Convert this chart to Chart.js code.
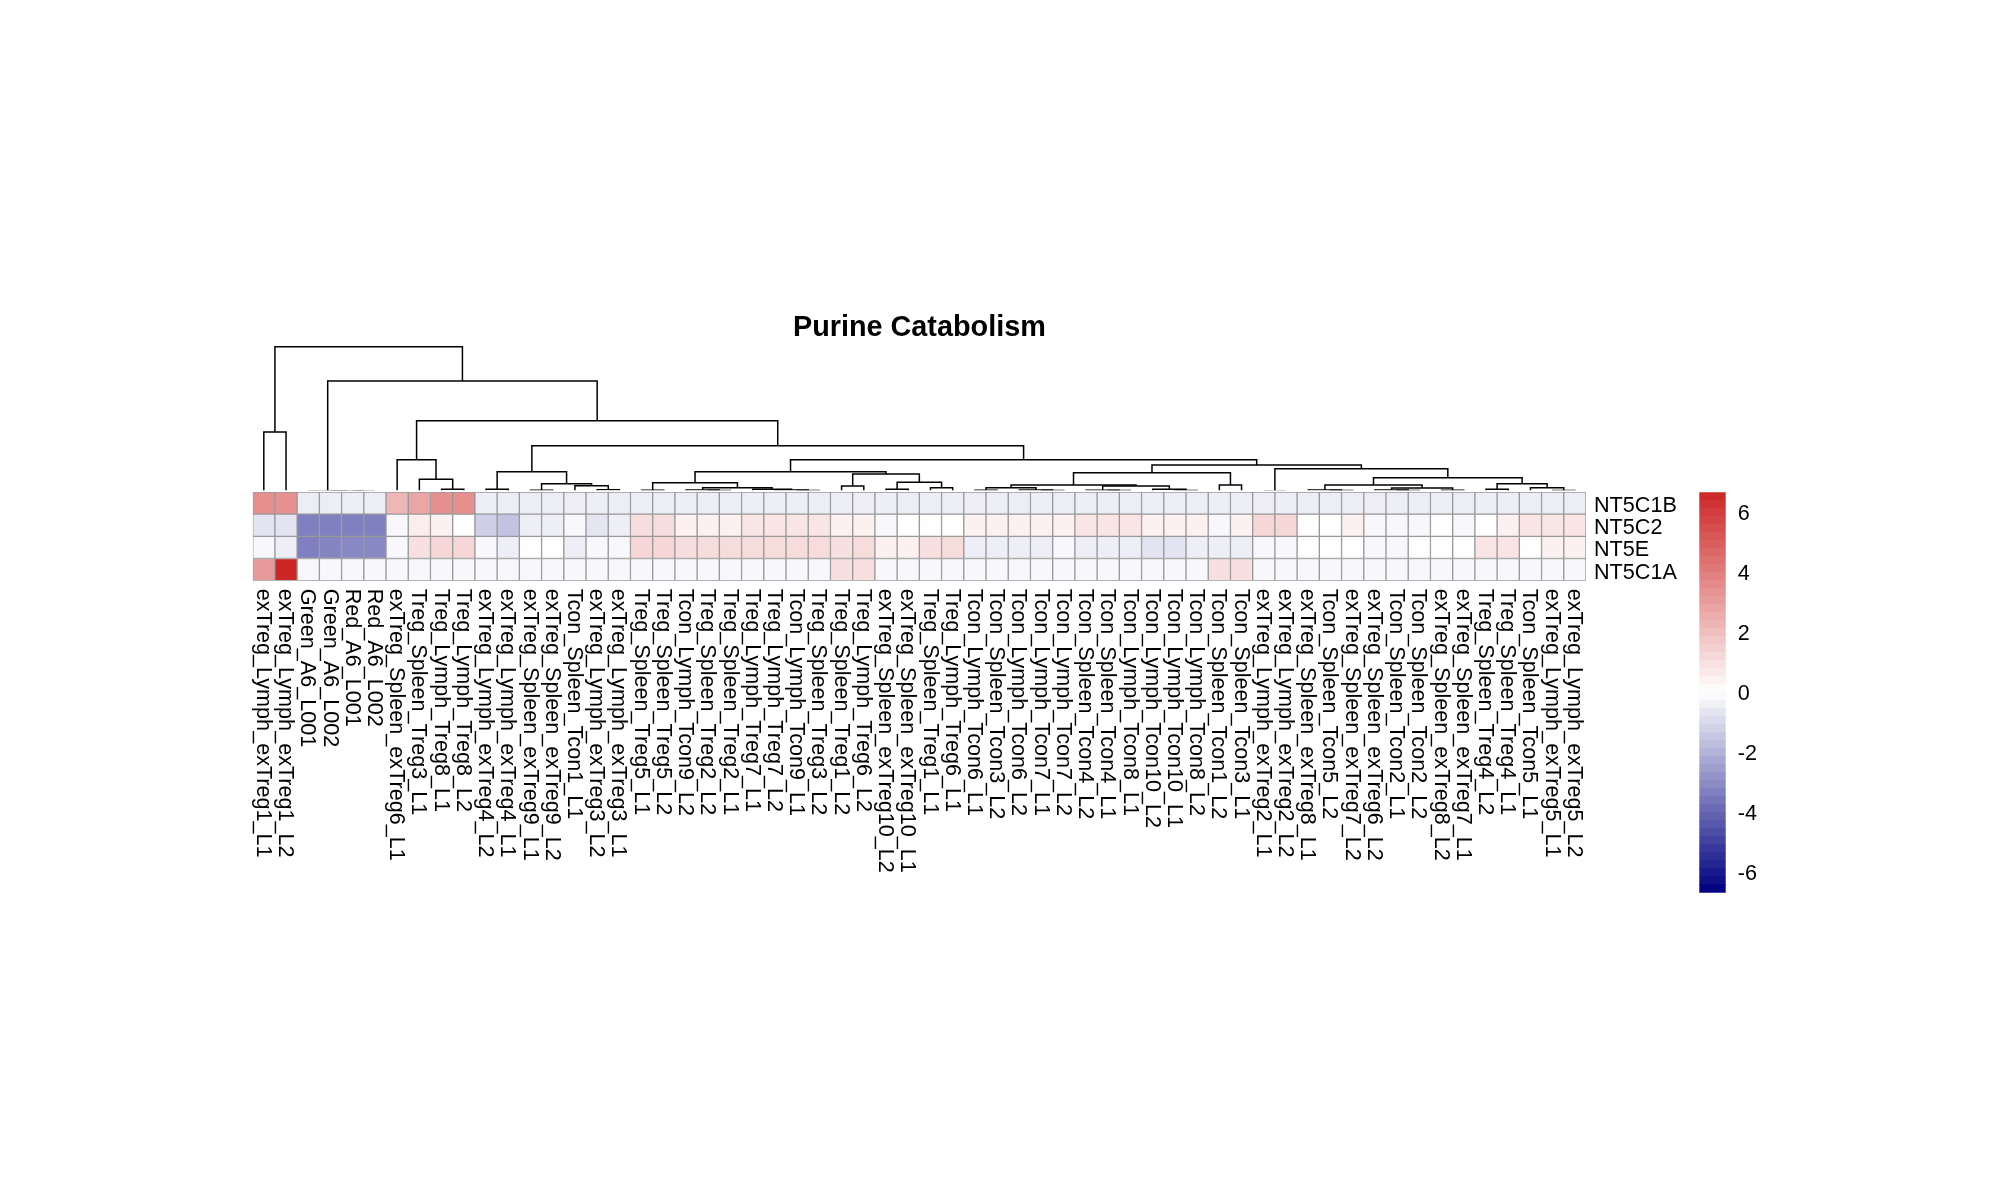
<!DOCTYPE html>
<html>
<head>
<meta charset="utf-8">
<script src="https://cdn.jsdelivr.net/npm/chart.js@4/dist/chart.umd.min.js"></script>
<style>
  html, body { margin: 0; padding: 0; background: #ffffff; }
  #wrap { position: relative; width: 2000px; height: 1200px; background: #ffffff; }
  #wrap canvas { position: absolute; left: 0; top: 0; }
</style>
</head>
<body>
<div id="wrap">
  <canvas id="dendro" width="2000" height="1200"></canvas>
  <canvas id="heat" width="2000" height="1200"></canvas>
  <canvas id="legend" width="2000" height="1200"></canvas>
</div>
<script>
// ---------------- DATA ----------------
const chartTitle = 'Purine Catabolism';

const samples = [
  'exTreg_Lymph_exTreg1_L1','exTreg_Lymph_exTreg1_L2','Green_A6_L001','Green_A6_L002','Red_A6_L001','Red_A6_L002',
  'exTreg_Spleen_exTreg6_L1','Treg_Spleen_Treg3_L1','Treg_Lymph_Treg8_L1','Treg_Lymph_Treg8_L2','exTreg_Lymph_exTreg4_L2','exTreg_Lymph_exTreg4_L1',
  'exTreg_Spleen_exTreg9_L1','exTreg_Spleen_exTreg9_L2','Tcon_Spleen_Tcon1_L1','exTreg_Lymph_exTreg3_L2','exTreg_Lymph_exTreg3_L1','Treg_Spleen_Treg5_L1',
  'Treg_Spleen_Treg5_L2','Tcon_Lymph_Tcon9_L2','Treg_Spleen_Treg2_L2','Treg_Spleen_Treg2_L1','Treg_Lymph_Treg7_L1','Treg_Lymph_Treg7_L2',
  'Tcon_Lymph_Tcon9_L1','Treg_Spleen_Treg3_L2','Treg_Spleen_Treg1_L2','Treg_Lymph_Treg6_L2','exTreg_Spleen_exTreg10_L2','exTreg_Spleen_exTreg10_L1',
  'Treg_Spleen_Treg1_L1','Treg_Lymph_Treg6_L1','Tcon_Lymph_Tcon6_L1','Tcon_Spleen_Tcon3_L2','Tcon_Lymph_Tcon6_L2','Tcon_Lymph_Tcon7_L1',
  'Tcon_Lymph_Tcon7_L2','Tcon_Spleen_Tcon4_L2','Tcon_Spleen_Tcon4_L1','Tcon_Lymph_Tcon8_L1','Tcon_Lymph_Tcon10_L2','Tcon_Lymph_Tcon10_L1',
  'Tcon_Lymph_Tcon8_L2','Tcon_Spleen_Tcon1_L2','Tcon_Spleen_Tcon3_L1','exTreg_Lymph_exTreg2_L1','exTreg_Lymph_exTreg2_L2','exTreg_Spleen_exTreg8_L1',
  'Tcon_Spleen_Tcon5_L2','exTreg_Spleen_exTreg7_L2','exTreg_Spleen_exTreg6_L2','Tcon_Spleen_Tcon2_L1','Tcon_Spleen_Tcon2_L2','exTreg_Spleen_exTreg8_L2',
  'exTreg_Spleen_exTreg7_L1','Treg_Spleen_Treg4_L2','Treg_Spleen_Treg4_L1','Tcon_Spleen_Tcon5_L1','exTreg_Lymph_exTreg5_L1','exTreg_Lymph_exTreg5_L2'
];

const genes = ['NT5C1B', 'NT5C2', 'NT5E', 'NT5C1A'];

const valNT5C1B = [
  3.5, 3.4, -0.4, -0.4, -0.4, -0.4, 2.3, 2.8, 3.5, 3.5,
  -0.4, -0.4, -0.4, -0.4, -0.4, -0.4, -0.4, -0.4, -0.4, -0.4,
  -0.4, -0.4, -0.4, -0.4, -0.4, -0.4, -0.4, -0.4, -0.4, -0.4,
  -0.4, -0.4, -0.4, -0.4, -0.4, -0.4, -0.4, -0.4, -0.4, -0.4,
  -0.4, -0.4, -0.4, -0.4, -0.4, -0.4, -0.4, -0.4, -0.4, -0.4,
  -0.4, -0.4, -0.4, -0.4, -0.4, -0.4, -0.4, -0.4, -0.4, -0.4
];
const valNT5C2 = [
  -0.67, -0.67, -3.26, -3.26, -3.26, -3.26, -0.12, 0.6, 0.5, 0.1,
  -1.19, -1.5, -0.39, -0.39, -0.12, -0.59, -0.39, 1.07, 1.07, 0.52,
  0.52, 0.52, 0.86, 0.86, 0.86, 0.86, 0.52, 0.52, -0.12, 0.1,
  0.1, 0.1, 0.52, 0.52, 0.52, 0.52, 0.52, 0.86, 0.86, 0.86,
  0.52, 0.52, 0.52, -0.12, 0.52, 1.3, 1.3, 0.1, 0.1, 0.52,
  -0.12, -0.12, -0.12, 0.1, -0.12, 0.1, 0.52, 0.86, 0.86, 0.86
];
const valNT5E = [
  -0.12, -0.39, -3.26, -3.13, -3.05, -3.05, -0.12, 1.01, 1.32, 1.32,
  -0.12, -0.39, 0.1, 0.1, -0.39, -0.12, -0.12, 1.32, 1.32, 1.07,
  1.13, 1.13, 1.13, 1.13, 1.13, 1.13, 1.01, 1.13, 0.52, 0.52,
  1.01, 1.13, -0.39, -0.39, -0.39, -0.39, -0.12, -0.39, -0.39, -0.39,
  -0.67, -0.67, -0.39, -0.39, -0.39, -0.12, -0.12, 0.1, 0.1, 0.1,
  -0.12, -0.12, 0.1, 0.1, 0.1, 0.86, 0.86, 0.1, 0.52, 0.52
];
const valNT5C1A = [
  3.16, 6.73, -0.12, -0.12, -0.12, -0.12, -0.12, -0.12, -0.12, -0.12,
  -0.12, -0.12, -0.12, -0.12, -0.12, -0.12, -0.12, -0.12, -0.12, -0.12,
  -0.12, -0.12, -0.12, -0.12, -0.12, -0.12, 1.01, 1.01, -0.12, -0.12,
  -0.12, -0.12, -0.12, -0.12, -0.12, -0.12, -0.12, -0.12, -0.12, -0.12,
  -0.12, -0.12, -0.12, 1.01, 1.01, -0.12, -0.12, -0.12, -0.12, -0.12,
  -0.12, -0.12, -0.12, -0.12, -0.12, -0.12, -0.12, -0.12, -0.12, -0.12
];

// Column dendrogram (hclust-style merge table): negative = leaf position, positive = earlier merge row
const merges = [
  [-5,-6], [-4,1], [-3,2], [-1,-2], [-9,-10], [-8,5], [-7,6], [-11,-12], [-13,-14], [-16,-17],
  [-15,10], [9,11], [8,12], [-18,-19], [-21,-22], [-20,15], [-25,-26], [-24,17], [-23,18], [16,19],
  [14,20], [-27,-28], [-29,-30], [-31,-32], [23,24], [22,25], [21,26], [-33,-34], [-36,-37], [-35,29],
  [28,30], [-39,-40], [-38,32], [-42,-43], [-41,34], [33,35], [31,36], [-44,-45], [37,38], [-46,-47],
  [-49,-50], [-48,41], [-52,-53], [-51,43], [-54,-55], [44,45], [42,46], [-56,-57], [-59,-60], [-58,49],
  [48,50], [47,51], [40,52], [39,53], [27,54], [13,55], [7,56], [3,57], [4,58]
];
const mergeHeights = [
  0, 0, 0, 59, 1.7, 11.7, 31.3, 1.7, 0.8, 1.2,
  5.3, 7.3, 19.2, 0.8, 0.6, 1, 0.6, 1, 1.7, 3.3,
  8.3, 5, 1.7, 3.3, 8.7, 17, 19.3, 0.7, 0.6, 1,
  3.3, 0.6, 0.8, 0.6, 1.7, 5, 6, 6, 18.3, 0,
  0.6, 1, 0.6, 1, 0.8, 3, 6, 1.7, 0.6, 3.3,
  7.3, 13.3, 22.3, 26, 31.3, 45.3, 70.3, 110, 144.3
];

// Colour key
const legendMin = -6.61;
const legendMax = 6.73;
const legendTicks = [-6, -4, -2, 0, 2, 4, 6];
const legendBandCount = 50;

// ---------------- STYLE / HELPERS ----------------
const FONT = '"Liberation Sans", Arial, Helvetica, sans-serif';
const LABEL_SIZE = 21.6;
Chart.defaults.font.family = FONT;
Chart.defaults.color = '#000000';

const NAVY = [0, 0, 128], WHITE = [255, 255, 255], FIRE = [205, 38, 38];
function mix(a, b, s) {
  return 'rgb(' + a.map((c, i) => Math.round(c + (b[i] - c) * s)).join(',') + ')';
}
function colorOf(v) {
  let t = (v - legendMin) / (legendMax - legendMin);
  t = Math.max(0, Math.min(1, t));
  if (t < 0.5) return mix(NAVY, WHITE, t / 0.5);
  return mix(WHITE, FIRE, (t - 0.5) / 0.5);
}

// geometry of the panels (pixels)
const HM_LEFT = 252.7, HM_RIGHT = 1586, HM_TOP = 492, HM_BOTTOM = 580.7;
const DEND_TOP = 346.7, DEND_BOTTOM = 491;
const KEY_LEFT = 1699.3, KEY_RIGHT = 1725.7, KEY_TOP = 492.3, KEY_BOTTOM = 892.7;
const W = 2000, H = 1200;

// ---------------- DENDROGRAM ----------------
function nodeX(id) { return id < 0 ? -id : (nodeX(merges[id - 1][0]) + nodeX(merges[id - 1][1])) / 2; }
function nodeH(id) { return id < 0 ? 0 : mergeHeights[id - 1]; }
const dendroSets = merges.map((m, i) => {
  const h = mergeHeights[i];
  const xa = nodeX(m[0]), xb = nodeX(m[1]);
  return {
    data: [{x: xa, y: nodeH(m[0])}, {x: xa, y: h}, {x: xb, y: h}, {x: xb, y: nodeH(m[1])}],
    showLine: true, borderColor: '#000000', borderWidth: 1.5, pointRadius: 0, tension: 0,
    clip: {left: 3, right: 3, top: 3, bottom: -0.8}
  };
});
const titleSize = 28.8, titleLine = titleSize * 1.2;
const titleTop = 310.5;
new Chart(document.getElementById('dendro'), {
  type: 'scatter',
  data: { datasets: dendroSets },
  options: {
    responsive: false, animation: false,
    layout: { padding: { left: HM_LEFT, right: W - HM_RIGHT, top: titleTop, bottom: H - DEND_BOTTOM } },
    plugins: {
      legend: { display: false }, tooltip: { enabled: false },
      title: {
        display: true, text: chartTitle, color: '#000000',
        font: { family: FONT, size: titleSize, weight: 'bold', lineHeight: 1.2 },
        padding: { top: 0, bottom: DEND_TOP - titleTop - titleLine }
      }
    },
    scales: {
      x: { type: 'linear', display: false, min: 0.5, max: samples.length + 0.5 },
      y: { type: 'linear', display: false, min: 0, max: Math.max(...mergeHeights) }
    }
  }
});

// ---------------- HEATMAP ----------------
const rowValues = { NT5C1B: valNT5C1B, NT5C2: valNT5C2, NT5E: valNT5E, NT5C1A: valNT5C1A };
const heatSets = genes.slice().reverse().map(g => ({
  label: g,
  data: samples.map(() => 1),
  backgroundColor: rowValues[g].map(colorOf),
  borderColor: '#999999', borderWidth: 1, borderSkipped: false,
  categoryPercentage: 1, barPercentage: 1, yAxisID: 'y', stack: 'rows'
}));
const ROW_AXIS_W = 150;
const colLabelPlugin = {
  id: 'colLabels',
  afterDraw(chart) {
    const xs = chart.scales.x, ctx = chart.ctx;
    ctx.save();
    ctx.font = LABEL_SIZE + 'px ' + FONT;
    ctx.fillStyle = '#000000';
    ctx.textAlign = 'left';
    ctx.textBaseline = 'middle';
    samples.forEach((s, i) => {
      ctx.save();
      ctx.translate(xs.getPixelForValue(i) - 1, chart.chartArea.bottom + 8);
      ctx.rotate(Math.PI / 2);
      ctx.fillText(s, 0, 0);
      ctx.restore();
    });
    ctx.restore();
  }
};
new Chart(document.getElementById('heat'), {
  type: 'bar',
  data: { labels: samples, datasets: heatSets },
  options: {
    responsive: false, animation: false,
    layout: { padding: { left: HM_LEFT, right: W - HM_RIGHT - ROW_AXIS_W, top: HM_TOP, bottom: H - HM_BOTTOM } },
    plugins: { legend: { display: false }, tooltip: { enabled: false } },
    scales: {
      x: { type: 'category', display: false, stacked: true, offset: true },
      y: { type: 'linear', display: false, stacked: true, min: 0, max: genes.length },
      yr: {
        type: 'category', position: 'right', labels: genes, offset: true,
        grid: { display: false, drawTicks: false }, border: { display: false },
        ticks: { color: '#000000', font: { family: FONT, size: LABEL_SIZE }, padding: 8, autoSkip: false, labelOffset: 3 },
        afterFit(s) { s.width = ROW_AXIS_W; }
      }
    }
  },
  plugins: [colLabelPlugin]
});

// ---------------- COLOUR KEY ----------------
const bandStep = (legendMax - legendMin) / legendBandCount;
const keySets = Array.from({ length: legendBandCount }, (_, i) => {
  const lo = legendMin + i * bandStep, hi = lo + bandStep;
  return {
    data: [[lo, hi]], backgroundColor: colorOf((lo + hi) / 2), borderWidth: 0,
    grouped: false, categoryPercentage: 1, barPercentage: 1
  };
});
const KEY_AXIS_W = 100;
new Chart(document.getElementById('legend'), {
  type: 'bar',
  data: { labels: [''], datasets: keySets },
  options: {
    responsive: false, animation: false,
    layout: { padding: { left: KEY_LEFT, right: W - KEY_RIGHT - KEY_AXIS_W, top: KEY_TOP, bottom: H - KEY_BOTTOM } },
    plugins: { legend: { display: false }, tooltip: { enabled: false } },
    scales: {
      x: { type: 'category', display: false },
      y: {
        type: 'linear', position: 'right', min: legendMin, max: legendMax,
        grid: { display: false, drawTicks: false }, border: { display: false },
        afterBuildTicks(s) { s.ticks = legendTicks.map(v => ({ value: v })); },
        ticks: { color: '#000000', font: { family: FONT, size: LABEL_SIZE }, padding: 12, includeBounds: false,
                 callback: v => String(v) },
        afterFit(s) { s.width = KEY_AXIS_W; }
      }
    }
  }
});
</script>
</body>
</html>
